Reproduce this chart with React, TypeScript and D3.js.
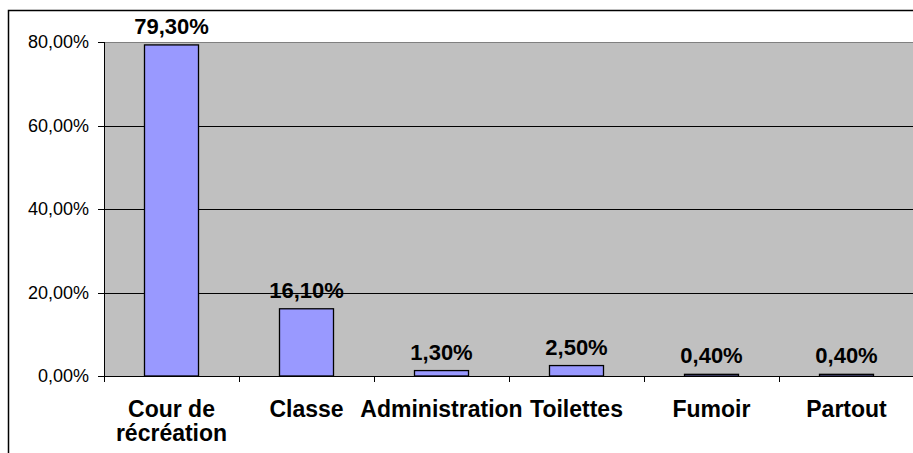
import * as d3 from 'd3';

// Data
const categories = ['Cour de\nrécréation', 'Classe', 'Administration', 'Toilettes', 'Fumoir', 'Partout'];
const values = [79.3, 16.1, 1.3, 2.5, 0.4, 0.4];
const yTicks = [0, 20, 40, 60, 80];

const W = 913;
const H = 453;
const plot = { left: 104, top: 42, right: 914, bottom: 376 };
const font = '"Liberation Sans", Arial, sans-serif';

const fmt = (v: number) => v.toFixed(2).replace('.', ',') + '%';

export default function App() {
  const x = d3.scaleBand<string>()
    .domain(categories)
    .range([plot.left, plot.right])
    .paddingInner(0)
    .paddingOuter(0);
  const y = d3.scaleLinear().domain([0, 80]).range([plot.bottom, plot.top]);
  const bw = x.bandwidth() / 2.5;

  return (
    <div style={{ position: 'fixed', left: 0, top: 0 }}>
      <svg width={W} height={H} style={{ display: 'block', background: '#fff' }}>
        {/* outer frame */}
        <rect x={8.5} y={10.5} width={1000} height={1000} fill="none" stroke="#000" strokeWidth={1.5} />

        {/* plot area */}
        <rect x={plot.left} y={plot.top} width={plot.right - plot.left} height={plot.bottom - plot.top} fill="#C0C0C0" />
        <line x1={plot.left} x2={plot.right} y1={plot.top + 0.5} y2={plot.top + 0.5} stroke="#808080" strokeWidth={1} />

        {/* gridlines */}
        {yTicks.filter(t => t > 0 && t < 80).map(t => (
          <line key={t} x1={plot.left} x2={plot.right} y1={Math.round(y(t)) + 0.5} y2={Math.round(y(t)) + 0.5} stroke="#000" strokeWidth={1} />
        ))}

        {/* bars */}
        {categories.map((c, i) => {
          const cx = (x(c) as number) + x.bandwidth() / 2;
          return (
            <rect key={c} x={cx - bw / 2} y={y(values[i])} width={bw} height={plot.bottom - y(values[i])}
              fill="#9999FF" stroke="#000" strokeWidth={1.3} />
          );
        })}

        {/* axes */}
        <line x1={plot.left + 0.5} x2={plot.left + 0.5} y1={plot.top} y2={plot.bottom} stroke="#000" strokeWidth={1} />
        <line x1={plot.left} x2={plot.right} y1={plot.bottom + 0.5} y2={plot.bottom + 0.5} stroke="#000" strokeWidth={1} />

        {/* y ticks */}
        {yTicks.map(t => (
          <g key={t}>
            <line x1={plot.left - 6} x2={plot.left} y1={Math.round(y(t)) + 0.5} y2={Math.round(y(t)) + 0.5} stroke="#000" />
            <text x={89} y={y(t) + 6} textAnchor="end" fontFamily={font} fontSize={18} fill="#000">{fmt(t)}</text>
          </g>
        ))}

        {/* x ticks */}
        {categories.map(c => (
          <line key={c} x1={Math.round(x(c) as number) + 0.5} x2={Math.round(x(c) as number) + 0.5}
            y1={plot.bottom} y2={plot.bottom + 6} stroke="#000" />
        ))}

        {/* x labels */}
        {categories.map(c => {
          const cx = (x(c) as number) + x.bandwidth() / 2;
          return (
            <text key={c} x={cx} y={417} textAnchor="middle" fontFamily={font} fontSize={23} fontWeight="bold" fill="#000">
              {c.split('\n').map((line, j) => (
                <tspan key={j} x={cx} dy={j === 0 ? 0 : 24}>{line}</tspan>
              ))}
            </text>
          );
        })}

        {/* value labels */}
        {categories.map((c, i) => {
          const cx = (x(c) as number) + x.bandwidth() / 2;
          return (
            <text key={c} x={cx} y={y(values[i]) - 11} textAnchor="middle" fontFamily={font} fontSize={22} fontWeight="bold" fill="#000">
              {fmt(values[i])}
            </text>
          );
        })}
      </svg>
    </div>
  );
}
